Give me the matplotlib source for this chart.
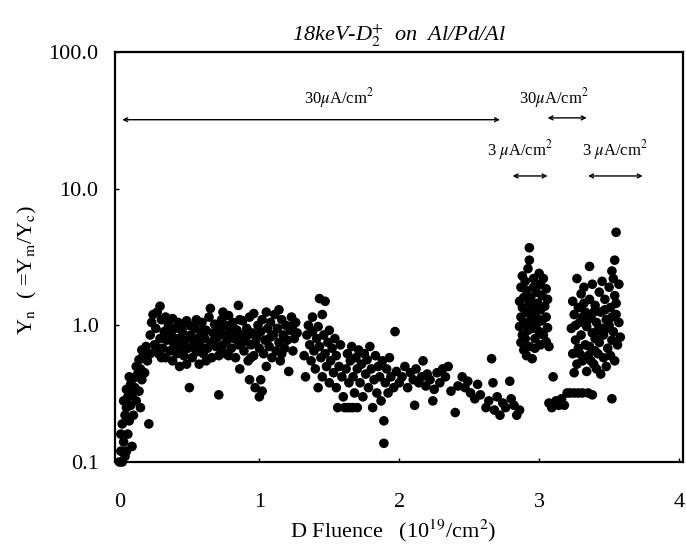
import matplotlib
matplotlib.use("Agg")
import matplotlib.pyplot as plt
from matplotlib.ticker import FixedLocator, FixedFormatter

plt.rcParams['font.family'] = ['Liberation Serif', 'DejaVu Serif']
plt.rcParams['mathtext.fontset'] = 'stix'

# D fluence (1e19/cm2) and normalised yield Yn, read off the picture by region
# initial rise
fl_rise = [0.00, 0.02, 0.04, 0.01, 0.05, 0.09, 0.03, 0.01, 0.06, 0.02, 0.07, 0.04, 0.10, 0.21,
           0.05, 0.08, 0.03, 0.06, 0.09, 0.12, 0.15, 0.05, 0.08, 0.11, 0.14, 0.10, 0.13, 0.07,
           0.16, 0.12, 0.15, 0.18, 0.14, 0.17, 0.20, 0.16, 0.19, 0.22]
yn_rise = [0.10, 0.10, 0.11, 0.12, 0.12, 0.13, 0.14, 0.16, 0.16, 0.19, 0.20, 0.22, 0.22, 0.19,
           0.25, 0.26, 0.28, 0.30, 0.31, 0.28, 0.25, 0.34, 0.37, 0.35, 0.33, 0.41, 0.44, 0.42,
           0.40, 0.50, 0.48, 0.45, 0.56, 0.60, 0.55, 0.66, 0.70, 0.62]

# plateau 0.2 - 1.0
fl_plateau = [0.22, 0.23, 0.24, 0.25, 0.26, 0.27, 0.28, 0.29, 0.29, 0.30, 0.31, 0.32, 0.33, 0.33,
              0.34, 0.35, 0.36, 0.37, 0.38, 0.38, 0.39, 0.40, 0.41, 0.42, 0.42, 0.43, 0.44, 0.45,
              0.46, 0.47, 0.48, 0.48, 0.49, 0.50, 0.50, 0.51, 0.52, 0.53, 0.54, 0.55, 0.56, 0.57,
              0.58, 0.58, 0.59, 0.60, 0.61, 0.62, 0.63, 0.64, 0.65, 0.65, 0.66, 0.67, 0.68, 0.69,
              0.70, 0.71, 0.71, 0.72, 0.73, 0.74, 0.75, 0.76, 0.76, 0.77, 0.78, 0.79, 0.80, 0.81,
              0.82, 0.83, 0.84, 0.85, 0.85, 0.86, 0.87, 0.88, 0.89, 0.90, 0.91, 0.92, 0.93, 0.93,
              0.94, 0.95, 0.96, 0.96, 0.97, 0.98, 0.99, 1.00, 1.00,
              0.26, 0.30, 0.35, 0.40, 0.45, 0.52, 0.55, 0.60, 0.62, 0.68, 0.72, 0.78, 0.82, 0.88,
              0.92, 0.97, 0.36, 0.44, 0.54, 0.74, 0.86, 0.94]
yn_plateau = [0.85, 1.05, 1.20, 0.72, 0.95, 1.25, 0.62, 1.38, 0.80, 1.10, 0.68, 0.90, 1.15, 0.58,
              0.78, 1.00, 0.65, 0.85, 1.12, 0.55, 0.72, 0.95, 0.62, 1.05, 0.80, 0.50, 0.70, 0.90,
              0.60, 0.78, 1.08, 0.52, 0.68, 1.00, 0.35, 0.85, 0.58, 0.72, 0.95, 0.64, 0.80, 0.52,
              0.90, 0.70, 1.05, 0.62, 0.80, 0.92, 0.68, 1.15, 1.33, 0.75, 0.58, 0.88, 1.02, 0.70,
              0.82, 0.31, 0.60, 0.95, 1.10, 0.72, 0.85, 1.00, 0.62, 0.78, 1.18, 0.90, 0.68, 1.05,
              0.80, 0.58, 0.92, 1.40, 0.72, 0.48, 0.85, 1.08, 0.65, 0.78, 0.95, 0.55, 0.40, 1.15,
              0.72, 0.88, 1.22, 0.60, 0.35, 0.82, 1.00, 0.68, 0.30,
              0.70, 0.58, 0.82, 0.75, 0.65, 0.80, 1.10, 0.85, 0.55, 0.78, 0.68, 0.60, 0.95, 0.75,
              0.85, 0.75, 0.92, 1.00, 0.68, 1.25, 1.10, 0.58]

# 1.0 - 1.3
fl_mid = [1.01, 1.02, 1.03, 1.04, 1.05, 1.05, 1.06, 1.07, 1.08, 1.09, 1.10, 1.11, 1.12, 1.13,
          1.14, 1.14, 1.15, 1.16, 1.17, 1.18, 1.19, 1.20, 1.21, 1.22, 1.23, 1.24, 1.25, 1.26,
          1.27, 1.01, 1.02, 1.08, 1.16, 1.24]
yn_mid = [0.90, 1.10, 0.62, 0.78, 1.25, 0.50, 0.95, 0.70, 1.05, 0.58, 0.85, 1.20, 0.65, 0.95,
          1.30, 0.75, 0.55, 1.10, 0.85, 0.68, 1.00, 0.78, 0.46, 0.92, 1.15, 0.65, 0.80, 1.05,
          0.88, 0.40, 0.33, 0.82, 0.62, 1.00]

# 1.3 - 2.05, yield falling
fl_drop = [1.43, 1.47, 1.32, 1.33, 1.34, 1.35, 1.36, 1.37, 1.38, 1.38, 1.39, 1.40, 1.41, 1.42,
           1.42, 1.43, 1.44, 1.45, 1.45, 1.46, 1.47, 1.48, 1.49, 1.50, 1.50, 1.51, 1.52, 1.53,
           1.54, 1.55, 1.55, 1.56, 1.57, 1.58, 1.59, 1.60,
           1.61, 1.63, 1.65, 1.67, 1.70, 1.62, 1.63, 1.64, 1.65, 1.66, 1.67, 1.68, 1.69, 1.70,
           1.71, 1.72, 1.73, 1.74, 1.75, 1.76, 1.77, 1.78, 1.79, 1.80, 1.81, 1.82, 1.83, 1.84,
           1.85, 1.86, 1.87, 1.88, 1.89, 1.89, 1.90, 1.91, 1.92, 1.93, 1.94, 1.96, 1.97, 1.98,
           2.00, 2.02, 2.04]
yn_drop = [1.57, 1.50, 0.60, 0.42, 0.85, 1.00, 0.72, 0.55, 1.15, 0.90, 0.65, 0.48, 0.80, 0.35,
           0.98, 0.70, 0.58, 1.20, 0.42, 0.85, 0.62, 0.50, 0.75, 0.38, 0.92, 0.55, 0.68, 0.45,
           0.80, 0.35, 0.60, 0.25, 0.50, 0.72, 0.42, 0.30,
           0.25, 0.25, 0.25, 0.25, 0.25, 0.48, 0.62, 0.38, 0.55, 0.70, 0.42, 0.32, 0.58, 0.48,
           0.66, 0.38, 0.52, 0.30, 0.62, 0.44, 0.56, 0.35, 0.70, 0.48, 0.25, 0.40, 0.60, 0.32,
           0.50, 0.42, 0.28, 0.55, 0.20, 0.137, 0.38, 0.48, 0.32, 0.58, 0.42, 0.35, 0.90, 0.46,
           0.38, 0.42, 0.50]

# 2.05 - 2.86, low level
fl_low = [2.06, 2.08, 2.10, 2.11, 2.12, 2.14, 2.16, 2.17, 2.19, 2.20, 2.22, 2.24, 2.25, 2.27,
          2.29, 2.31, 2.33, 2.35, 2.37, 2.40, 2.42, 2.45, 2.47, 2.49, 2.51, 2.54, 2.56, 2.58,
          2.62, 2.64, 2.66, 2.67, 2.68, 2.70, 2.72, 2.74, 2.76, 2.79, 2.80, 2.82, 2.84, 2.86]
yn_low = [0.35, 0.45, 0.40, 0.26, 0.48, 0.38, 0.42, 0.55, 0.36, 0.44, 0.40, 0.28, 0.34, 0.45,
          0.38, 0.48, 0.42, 0.50, 0.33, 0.23, 0.36, 0.42, 0.35, 0.39, 0.32, 0.29, 0.37, 0.31,
          0.25, 0.28, 0.57, 0.38, 0.24, 0.30, 0.22, 0.27, 0.25, 0.39, 0.29, 0.26, 0.22, 0.24]

# first 3 uA/cm2 period
fl_burst1 = [2.93, 2.93, 2.92, 2.88, 2.90, 2.87, 2.91, 2.89, 2.86, 2.93, 2.88, 2.91, 2.87, 2.94,
             2.89, 2.86, 2.92, 2.88, 2.90, 2.87, 2.93, 2.89, 2.91, 2.95,
             3.00, 3.03, 3.01, 3.05, 2.98, 3.02, 3.06, 2.99, 3.04, 3.01, 2.97, 3.05, 3.02, 2.98,
             3.06, 3.00, 3.03, 2.97, 3.05, 3.01, 3.07, 2.96, 2.96, 2.95, 2.94, 2.97, 2.96, 3.00,
             2.92, 2.95]
yn_burst1 = [3.7, 3.0, 2.6, 2.3, 2.1, 1.9, 1.8, 1.6, 1.5, 1.45, 1.35, 1.25, 1.15, 1.1,
             1.05, 0.98, 0.92, 0.85, 0.80, 0.75, 0.70, 0.66, 0.60, 0.57,
             2.4, 2.2, 2.0, 1.85, 1.75, 1.65, 1.55, 1.45, 1.38, 1.30, 1.22, 1.15, 1.08, 1.02,
             0.96, 0.90, 0.85, 0.80, 0.76, 0.72, 0.70, 1.90, 1.40, 0.95, 1.60, 0.68, 2.2, 1.1,
             1.0, 1.3]

# second 30 uA/cm2 period
fl_gap = [3.10, 3.07, 3.09, 3.12, 3.14, 3.16, 3.18, 3.20, 3.22, 3.25, 3.28, 3.31, 3.35, 3.38]
yn_gap = [0.42, 0.27, 0.25, 0.28, 0.26, 0.29, 0.26, 0.32, 0.32, 0.32, 0.32, 0.32, 0.32, 0.31]

# second 3 uA/cm2 period
fl_burst2 = [3.27, 3.36, 3.55, 3.54, 3.52, 3.52,
             3.24, 3.25, 3.23, 3.26, 3.24, 3.27, 3.25, 3.28, 3.29, 3.30, 3.28, 3.31, 3.30, 3.32,
             3.33, 3.34, 3.33, 3.35, 3.34, 3.36, 3.37, 3.38, 3.36, 3.39, 3.38, 3.40, 3.41, 3.40,
             3.42, 3.41, 3.43, 3.44, 3.45, 3.43, 3.46, 3.44, 3.47, 3.48, 3.46, 3.49, 3.48, 3.50,
             3.51, 3.50, 3.52, 3.51, 3.53, 3.54, 3.55, 3.53, 3.56, 3.55, 3.57, 3.58, 3.57, 3.54,
             3.32, 3.35, 3.39, 3.42, 3.47, 3.49, 3.26, 3.29, 3.31, 3.37, 3.45, 3.40, 3.52]
yn_burst2 = [2.2, 2.7, 4.8, 3.0, 0.29, 2.5,
             1.5, 1.2, 0.95, 0.78, 0.62, 0.52, 0.45, 1.35, 1.05, 0.85, 0.68, 0.55, 1.70, 1.90,
             1.25, 0.98, 0.72, 0.60, 0.46, 1.55, 1.15, 0.88, 0.70, 0.52, 2.0, 1.40, 1.05, 0.80,
             0.62, 0.48, 1.75, 1.25, 0.95, 0.75, 0.58, 0.44, 1.55, 1.10, 0.85, 0.68, 0.50, 1.90,
             1.35, 1.00, 0.78, 0.60, 2.2, 1.65, 1.20, 0.90, 0.72, 1.45, 1.05, 0.82, 2.0, 0.55,
             1.45, 1.10, 1.25, 0.92, 1.30, 0.95, 1.00, 0.62, 1.15, 0.55, 2.1, 0.65, 1.15]

fluence = fl_rise + fl_plateau + fl_mid + fl_drop + fl_low + fl_burst1 + fl_gap + fl_burst2
yn = yn_rise + yn_plateau + yn_mid + yn_drop + yn_low + yn_burst1 + yn_gap + yn_burst2

y_ticks = [0.1, 1, 10, 100]
y_tick_labels = ['0.1', '1.0', '10.0', '100.0']
x_ticks = [0, 1, 2, 3, 4]

fig = plt.figure(figsize=(6.86, 5.49), dpi=100)
ax = fig.add_axes([0.168, 0.1585, 0.828, 0.7466])

ax.scatter(fluence, yn, s=48, color='black', edgecolors='none', clip_on=False, zorder=3)

ax.set_yscale('log')
ax.set_ylim(0.1, 100)
ax.set_xlim(-0.03, 4.03)
ax.yaxis.set_major_locator(FixedLocator(y_ticks))
ax.yaxis.set_major_formatter(FixedFormatter(y_tick_labels))
ax.yaxis.set_minor_locator(FixedLocator([]))
ax.set_xticks(x_ticks)
ax.set_xticklabels([str(t) for t in x_ticks])
ax.tick_params(axis='x', direction='in', length=3, width=1, pad=22, labelsize=16)
ax.tick_params(axis='y', direction='in', length=3, width=1, pad=12, labelsize=16)
for sp in ax.spines.values():
    sp.set_linewidth(1.6)

ax.set_xlabel('D Fluence   (10$^{19}$/cm$^{2}$)', fontsize=16)
ax.xaxis.set_label_coords(0.49, -0.135)
ax.set_ylabel('Y$_{\\rm n}$  ( =Y$_{\\rm m}$/Y$_{\\rm c}$)', fontsize=16)
ax.yaxis.set_label_coords(-0.135, 0.47)
ax.set_title('18keV-D$_{2}^{+}$  on  Al/Pd/Al', fontsize=16, style='italic', pad=8)

# beam current periods
arrow = dict(arrowstyle='<->', lw=1, color='black', mutation_scale=7, shrinkA=0, shrinkB=0)
ax.annotate('', xy=(2.72, 32), xytext=(0.02, 32), arrowprops=arrow)
ax.text(1.57, 46, '30$\\mu$A/cm$^{2}$', ha='center', va='center', fontsize=12)
ax.annotate('', xy=(3.34, 33), xytext=(3.06, 33), arrowprops=arrow)
ax.text(3.11, 46, '30$\\mu$A/cm$^{2}$', ha='center', va='center', fontsize=12)
ax.annotate('', xy=(3.06, 12.4), xytext=(2.81, 12.4), arrowprops=arrow)
ax.text(2.86, 19.3, '3 $\\mu$A/cm$^{2}$', ha='center', va='center', fontsize=12)
ax.annotate('', xy=(3.74, 12.4), xytext=(3.35, 12.4), arrowprops=arrow)
ax.text(3.54, 19.3, '3 $\\mu$A/cm$^{2}$', ha='center', va='center', fontsize=12)

fig.savefig('out.png', dpi=100)
